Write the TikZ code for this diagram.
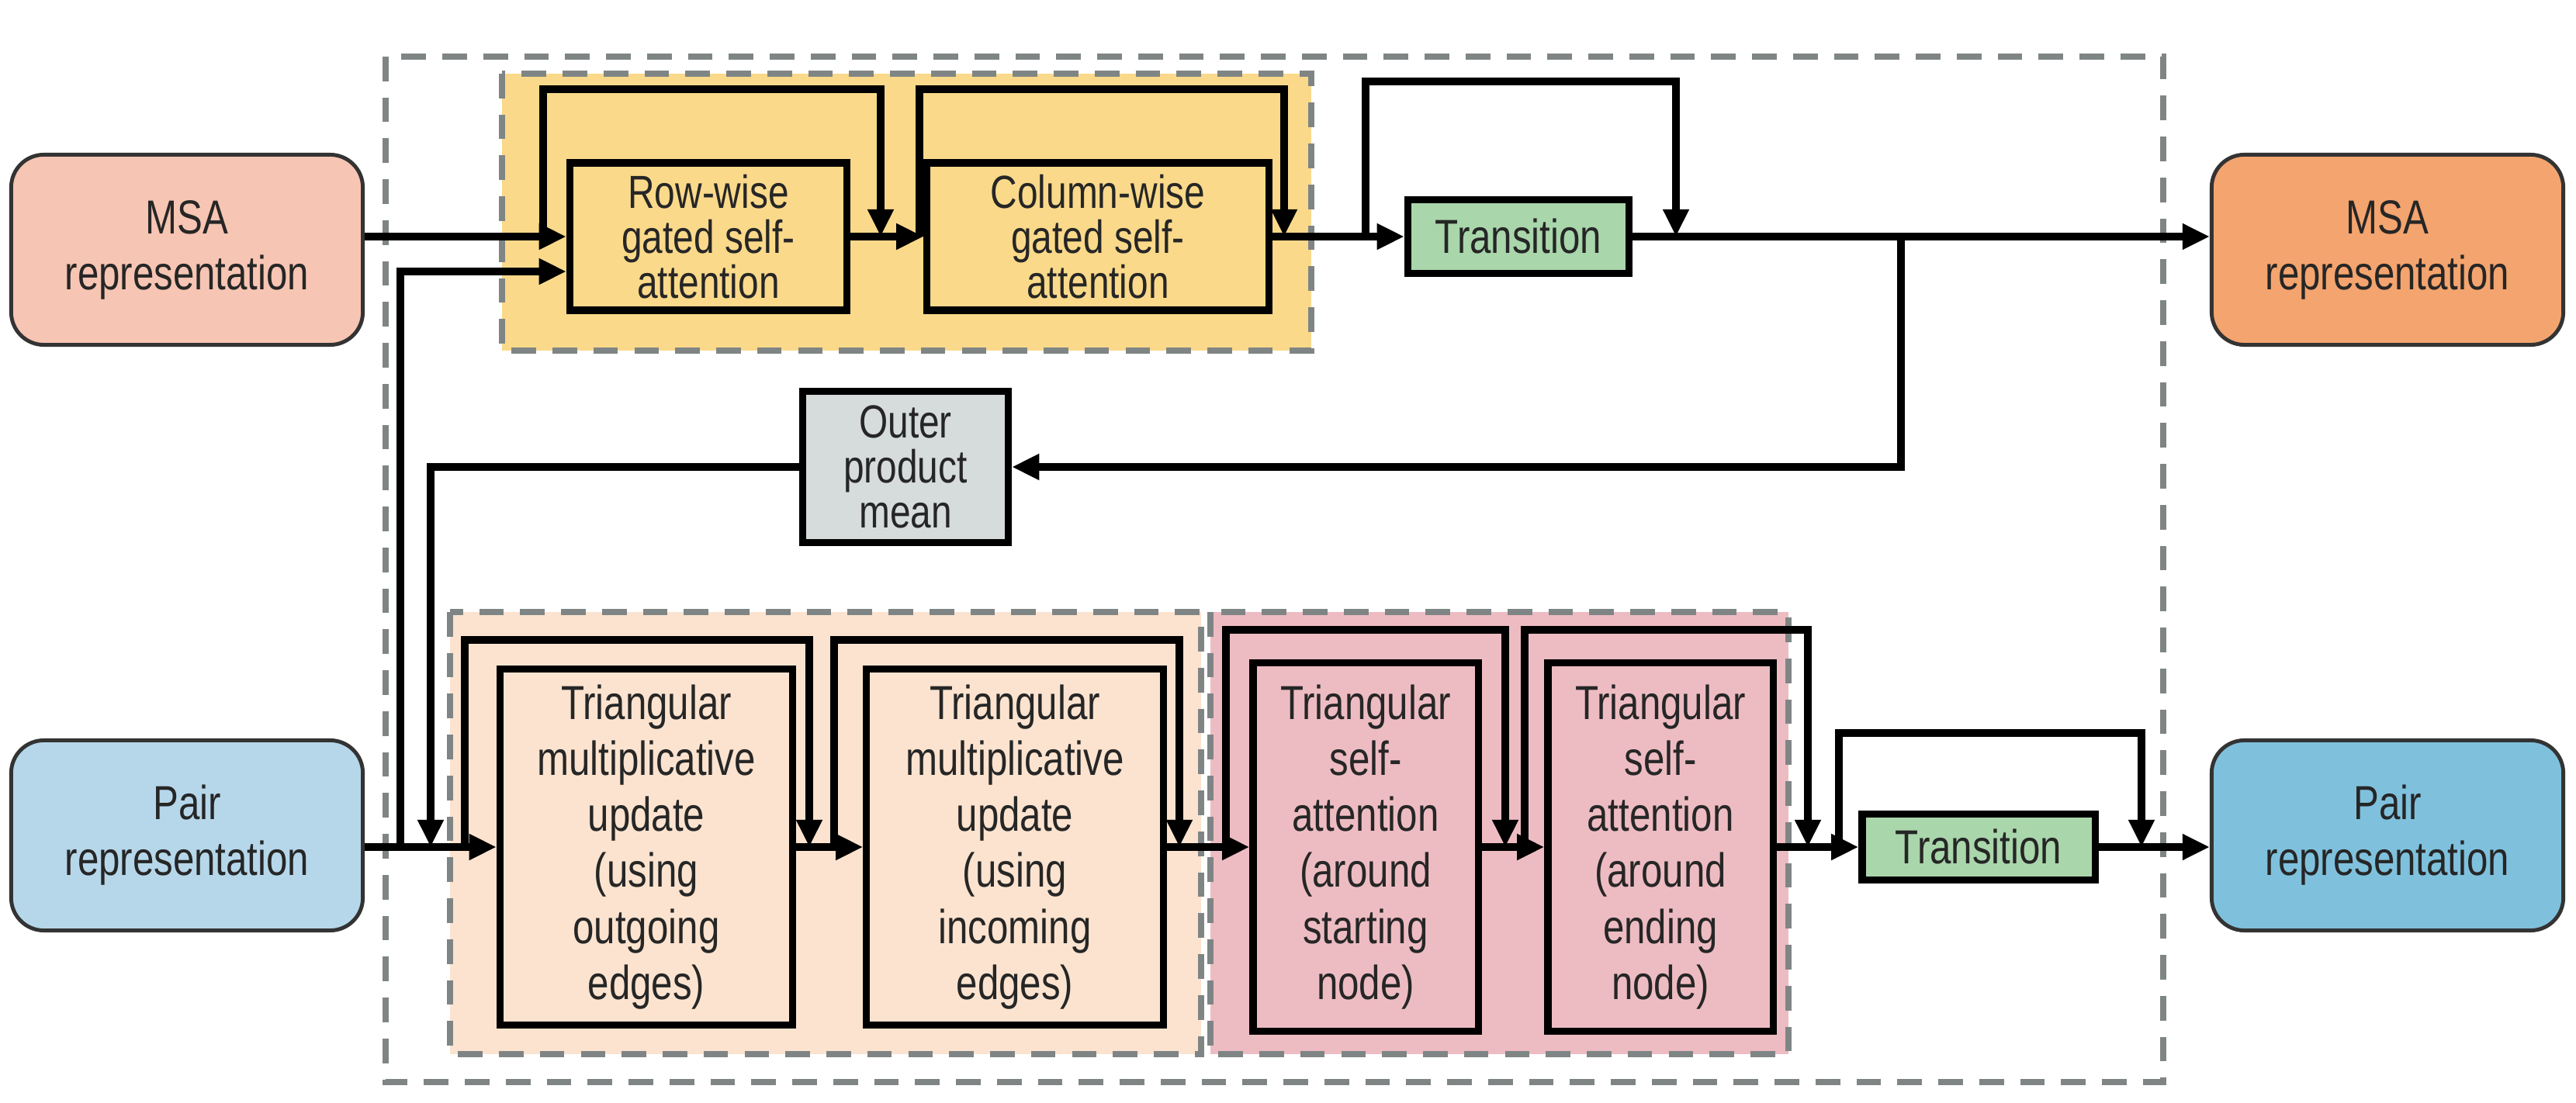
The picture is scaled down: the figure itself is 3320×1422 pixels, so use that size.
\documentclass[tikz,border=0pt]{standalone}
\usepackage{fontspec}
\setmainfont{Liberation Sans}[FakeStretch=0.8]
\usetikzlibrary{arrows.meta,calc}
\definecolor{cyel}{HTML}{FAD98A}
\definecolor{cpea}{HTML}{FBE3CF}
\definecolor{cpnk}{HTML}{EDBCC2}
\definecolor{cgry}{HTML}{D6DBDC}
\definecolor{cgrn}{HTML}{A9D6AB}
\definecolor{cmsaL}{HTML}{F7C5B3}
\definecolor{cmsaR}{HTML}{F4A46E}
\definecolor{cprL}{HTML}{B6D7EA}
\definecolor{cprR}{HTML}{7FC1DD}
\definecolor{cdash}{HTML}{7F8585}
\begin{document}
\begin{tikzpicture}[x=0.01cm,y=-0.01cm,
  txt/.style={font=\fontsize{17.5}{20.5}\selectfont,align=center,text=black!85},
  tight/.style={font=\fontsize{17}{16.5}\selectfont},
  rep/.style={txt,draw=black!80,line width=1.4pt,rounded corners=12pt,inner sep=0pt,minimum width=4.53cm,minimum height=2.45cm},
  blk/.style={txt,draw=black,line width=2.6pt,inner sep=0pt},
  grp/.style={draw=cdash,line width=2.2pt,dash pattern=on 9pt off 6pt},
  ln/.style={line width=3pt,black},
  ar/.style={ln,-{Triangle[length=10pt,width=9pt]}}]
\useasboundingbox (0,0) rectangle (3320,1422);
% groups
\draw[grp] (497,73) rectangle (2788,1395);
\draw[grp,fill=cyel] (647,95) rectangle (1690,452);
\draw[grp,fill=cpea] (580,789) rectangle (1548,1359);
\draw[grp,fill=cpnk] (1560,789) rectangle (2305,1359);
% nodes
\node[rep,fill=cmsaL] (msaL) at (241,322) {MSA\\representation};
\node[rep,fill=cmsaR] (msaR) at (3077,322) {MSA\\representation};
\node[rep,fill=cprL] (pairL) at (241,1077) {Pair\\representation};
\node[rep,fill=cprR] (pairR) at (3077,1077) {Pair\\representation};
\node[blk,tight,fill=cyel,minimum width=3.57cm,minimum height=1.9cm] (row) at (913,305) {Row-wise\\gated self-\\attention};
\node[blk,tight,fill=cyel,minimum width=4.4cm,minimum height=1.9cm] (col) at (1415,305) {Column-wise\\gated self-\\attention};
\node[blk,fill=cgrn,minimum width=2.85cm,minimum height=0.95cm] (trT) at (1957,305) {Transition};
\node[blk,tight,fill=cgry,minimum width=2.65cm,minimum height=1.95cm] (opm) at (1167,602) {Outer\\product\\mean};
\node[blk,fill=cpea,minimum width=3.77cm,minimum height=4.59cm] (tm1) at (833,1092) {Triangular\\multiplicative\\update\\(using\\outgoing\\edges)};
\node[blk,fill=cpea,minimum width=3.82cm,minimum height=4.59cm] (tm2) at (1308,1092) {Triangular\\multiplicative\\update\\(using\\incoming\\edges)};
\node[blk,fill=cpnk,minimum width=2.9cm,minimum height=4.75cm] (ts1) at (1760,1092) {Triangular\\self-\\attention\\(around\\starting\\node)};
\node[blk,fill=cpnk,minimum width=2.9cm,minimum height=4.75cm] (ts2) at (2140,1092) {Triangular\\self-\\attention\\(around\\ending\\node)};
\node[blk,fill=cgrn,minimum width=3.0cm,minimum height=0.85cm] (trB) at (2550,1092) {Transition};
% junction coordinates
\coordinate (j1) at (700,305);
\coordinate (k1) at (1135,305);
\coordinate (j2) at (1185,305);
\coordinate (k2) at (1655,305);
\coordinate (j3) at (1760,305);
\coordinate (k3) at (2160,305);
\coordinate (b1) at (2450,305);
\coordinate (o1) at (555,602);
\coordinate (o2) at (555,1092);
\coordinate (p0) at (516,1092);
\coordinate (p1) at (516,350);
\coordinate (q1) at (599,1092);
\coordinate (r1) at (1043,1092);
\coordinate (q2) at (1075,1092);
\coordinate (r2) at (1520,1092);
\coordinate (q3) at (1580,1092);
\coordinate (r3) at (1940,1092);
\coordinate (q4) at (1965,1092);
\coordinate (r4) at (2330,1092);
\coordinate (q5) at (2370,1092);
\coordinate (r5) at (2760,1092);
% MSA track
\draw[ar] (msaL.east|-row.west) -- (row.west);
\draw[ar] (j1) -- ++(0,-190) -| (k1);
\draw[ar] (row.east) -- (col.west);
\draw[ar] (j2) -- ++(0,-190) -| (k2);
\draw[ar] (col.east) -- (trT.west);
\draw[ar] (j3) -- ++(0,-200) -| (k3);
\draw[ar] (trT.east) -- (msaR.west|-trT.east);
\draw[ar] (b1) |- (opm.east);
\draw[ar] (opm.west) -- (o1) -- (o2);
\draw[ar] (p0) -- (p1) -- (row.west|-p1);
% pair track
\draw[ar] (pairL.east|-tm1.west) -- (tm1.west);
\draw[ar] (q1) -- ++(0,-267) -| (r1);
\draw[ar] (tm1.east) -- (tm2.west);
\draw[ar] (q2) -- ++(0,-267) -| (r2);
\draw[ar] (tm2.east) -- (ts1.west);
\draw[ar] (q3) -- ++(0,-280) -| (r3);
\draw[ar] (ts1.east) -- (ts2.west);
\draw[ar] (q4) -- ++(0,-280) -| (r4);
\draw[ar] (ts2.east) -- (trB.west);
\draw[ar] (q5) -- ++(0,-147) -| (r5);
\draw[ar] (trB.east) -- (pairR.west|-trB.east);
\end{tikzpicture}
\end{document}
